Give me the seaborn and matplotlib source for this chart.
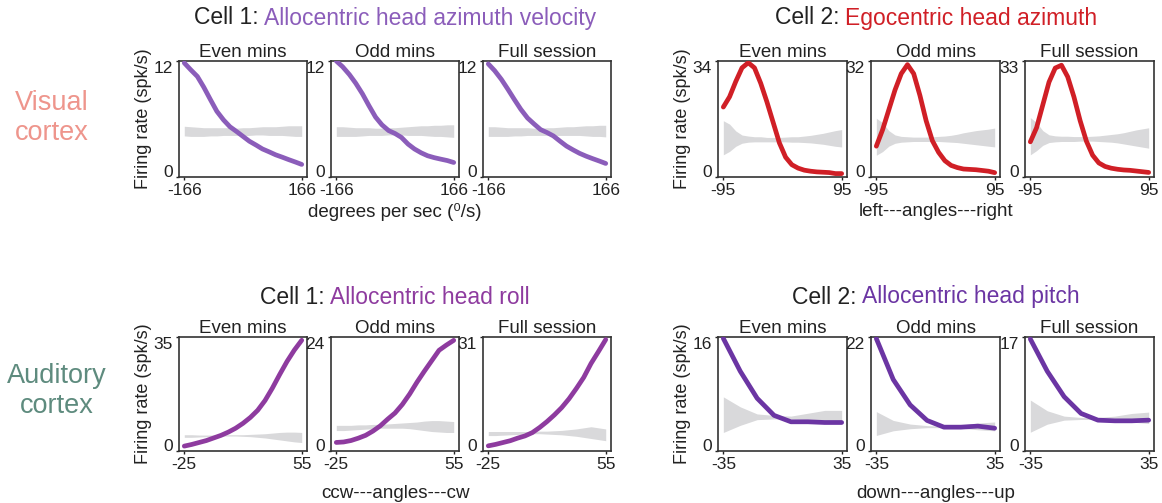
import matplotlib
matplotlib.use("Agg")
import matplotlib.pyplot as plt
import seaborn as sns

# ---- values ----
splits = ["Even mins", "Odd mins", "Full session"]

# Visual cortex, cell 1: allocentric head azimuth velocity
vel_x = [-166, -148, -129, -111, -92, -74, -55, -37, -18, 0,
         18, 37, 55, 74, 92, 111, 129, 148, 166]
vel_even = [11.8, 11.1, 10.4, 9.3, 8.0, 6.8, 5.9, 5.2, 4.7, 4.2,
            3.7, 3.3, 2.9, 2.6, 2.3, 2.05, 1.8, 1.55, 1.3]
vel_odd = [12.0, 11.4, 10.6, 9.7, 8.6, 7.4, 6.2, 5.4, 4.8, 4.5,
           4.1, 3.4, 2.9, 2.5, 2.2, 2.0, 1.85, 1.7, 1.5]
vel_full = [11.7, 11.0, 10.1, 9.1, 8.0, 7.0, 6.1, 5.5, 4.9, 4.6,
            4.25, 3.7, 3.2, 2.8, 2.45, 2.15, 1.9, 1.65, 1.4]
vel_lo_even = [4.25, 4.2, 4.2, 4.2, 4.25, 4.25, 4.3, 4.3, 4.3, 4.3,
               4.3, 4.35, 4.35, 4.3, 4.3, 4.3, 4.25, 4.2, 4.2]
vel_hi_even = [5.25, 5.2, 5.15, 5.1, 5.1, 5.1, 5.1, 5.1, 5.05, 5.1,
               5.1, 5.15, 5.2, 5.2, 5.2, 5.25, 5.3, 5.3, 5.3]
vel_lo_odd = [4.2, 4.2, 4.2, 4.2, 4.25, 4.3, 4.3, 4.3, 4.35, 4.35,
              4.35, 4.3, 4.3, 4.3, 4.25, 4.2, 4.2, 4.15, 4.1]
vel_hi_odd = [5.2, 5.2, 5.15, 5.1, 5.1, 5.1, 5.05, 5.05, 5.1, 5.1,
              5.15, 5.2, 5.25, 5.3, 5.3, 5.35, 5.35, 5.4, 5.4]
vel_lo_full = [4.2, 4.2, 4.2, 4.2, 4.25, 4.25, 4.3, 4.3, 4.3, 4.3,
               4.3, 4.3, 4.3, 4.3, 4.3, 4.25, 4.2, 4.2, 4.15]
vel_hi_full = [5.2, 5.2, 5.15, 5.1, 5.1, 5.1, 5.1, 5.05, 5.05, 5.1,
               5.1, 5.15, 5.2, 5.2, 5.25, 5.3, 5.3, 5.35, 5.35]

# Visual cortex, cell 2: egocentric head azimuth
azi_x = [-95, -85, -75, -65, -55, -45, -35, -25, -15, -5,
         5, 15, 25, 35, 45, 55, 65, 75, 85, 95]
azi_even = [20.5, 23.5, 28.0, 32.0, 33.5, 32.0, 27.5, 22.0, 16.0, 10.0,
            5.8, 3.6, 2.6, 2.0, 1.7, 1.5, 1.4, 1.3, 1.0, 1.0]
azi_odd = [8.5, 13.0, 18.5, 24.0, 28.5, 31.0, 28.5, 22.5, 15.5, 10.0,
           6.8, 4.5, 3.2, 2.6, 2.2, 2.1, 2.0, 1.8, 1.6, 1.2]
azi_full = [10.0, 14.0, 20.5, 27.0, 31.0, 31.8, 28.5, 22.8, 16.0, 10.2,
            6.2, 4.0, 3.0, 2.5, 2.2, 2.0, 1.9, 1.7, 1.5, 1.3]
azi_lo_even = [6.5, 7.5, 9.0, 9.9, 10.2, 10.3, 10.3, 10.3, 10.3, 10.3,
               10.3, 10.2, 10.2, 10.1, 10.0, 9.8, 9.6, 9.3, 9.0, 8.8]
azi_hi_even = [16.5, 15.5, 13.5, 12.3, 12.0, 11.8, 11.8, 11.6, 11.6, 11.6,
               11.7, 11.8, 11.8, 12.0, 12.2, 12.5, 12.8, 13.2, 13.6, 13.9]
azi_lo_odd = [6.0, 7.0, 8.5, 9.3, 9.6, 9.7, 9.8, 9.8, 9.8, 9.8,
              9.8, 9.7, 9.6, 9.5, 9.3, 9.1, 8.9, 8.7, 8.5, 8.3]
azi_hi_odd = [16.2, 15.0, 12.8, 11.6, 11.2, 11.1, 11.0, 11.0, 11.0, 11.1,
              11.2, 11.3, 11.5, 11.8, 12.2, 12.5, 12.8, 13.0, 13.2, 13.5]
azi_lo_full = [6.3, 7.5, 9.0, 9.8, 10.0, 10.1, 10.1, 10.1, 10.2, 10.2,
               10.2, 10.1, 10.0, 9.9, 9.7, 9.4, 9.1, 8.8, 8.5, 8.2]
azi_hi_full = [16.9, 15.5, 13.2, 12.0, 11.7, 11.6, 11.6, 11.5, 11.5, 11.5,
               11.6, 11.7, 11.9, 12.1, 12.3, 12.6, 13.0, 13.4, 13.7, 14.0]

# Auditory cortex, cell 1: allocentric head roll
roll_x = [-25, -20, -15, -10, -5, 0, 5, 10, 15, 20, 25, 30, 35, 40, 45, 50, 55]
roll_even = [1.5, 2.0, 2.6, 3.2, 4.0, 4.8, 5.8, 7.0, 8.5, 10.3, 12.5, 15.5,
             19.3, 23.5, 27.5, 31.0, 34.0]
roll_odd = [1.8, 1.9, 2.2, 2.7, 3.3, 4.2, 5.3, 6.7, 8.0, 9.8, 12.0, 14.5,
            16.8, 19.0, 21.2, 22.3, 23.3]
roll_full = [1.4, 1.8, 2.3, 2.8, 3.5, 4.1, 5.0, 6.4, 8.0, 9.8, 11.8, 14.2,
             17.0, 20.0, 23.8, 27.0, 30.3]
roll_lo_even = [4.2, 4.2, 4.3, 4.4, 4.5, 4.6, 4.6, 4.6, 4.5, 4.4, 4.2, 4.0,
                3.7, 3.4, 3.1, 2.8, 2.6]
roll_hi_even = [5.0, 5.0, 4.9, 4.9, 4.9, 4.9, 5.0, 5.0, 5.0, 5.1, 5.2, 5.3,
                5.5, 5.7, 5.8, 5.8, 5.7]
roll_lo_odd = [4.3, 4.3, 4.4, 4.5, 4.6, 4.7, 4.8, 4.8, 4.8, 4.8, 4.7, 4.5,
               4.3, 4.1, 4.0, 3.9, 3.9]
roll_hi_odd = [5.4, 5.4, 5.4, 5.5, 5.5, 5.6, 5.6, 5.7, 5.8, 5.9, 6.0, 6.1,
               6.3, 6.4, 6.4, 6.3, 6.2]
roll_lo_full = [4.2, 4.2, 4.3, 4.4, 4.5, 4.6, 4.7, 4.7, 4.6, 4.5, 4.4, 4.2,
                4.0, 3.7, 3.4, 3.1, 2.8]
roll_hi_full = [5.3, 5.3, 5.3, 5.3, 5.3, 5.3, 5.3, 5.4, 5.4, 5.5, 5.6, 5.8,
                6.0, 6.3, 6.6, 6.3, 6.0]

# Auditory cortex, cell 2: allocentric head pitch
pitch_x = [-35, -25, -15, -5, 5, 15, 25, 35]
pitch_even = [15.8, 11.2, 7.4, 5.0, 4.1, 4.1, 4.0, 4.0]
pitch_odd = [21.7, 13.8, 8.9, 5.9, 4.6, 4.6, 4.8, 4.4]
pitch_full = [16.7, 11.9, 8.1, 5.6, 4.6, 4.5, 4.5, 4.6]
pitch_lo_even = [2.6, 3.6, 4.4, 4.5, 4.5, 4.4, 4.3, 4.1]
pitch_hi_even = [7.6, 6.2, 5.2, 5.0, 4.9, 5.3, 5.7, 5.7]
pitch_lo_odd = [3.0, 3.9, 4.3, 4.5, 4.5, 4.4, 4.1, 3.9]
pitch_hi_odd = [7.6, 5.9, 5.2, 4.9, 4.8, 5.0, 5.4, 5.6]
pitch_lo_full = [2.8, 4.0, 4.6, 4.7, 4.7, 4.6, 4.3, 4.1]
pitch_hi_full = [7.6, 6.0, 5.2, 5.0, 5.0, 5.2, 5.6, 5.8]

y_max_labels = {
    "vel": [12, 12, 12],
    "azi": [34, 32, 33],
    "roll": [35, 24, 31],
    "pitch": [16, 22, 17],
}

# ---- styling / layout ----
sns.set_theme(style="ticks")
plt.rcParams["font.family"] = ["Liberation Sans", "DejaVu Sans"]

W, H = 1162, 503
TXT = "#222222"
BAND = "#D9D9DB"
fig = plt.figure(figsize=(W / 100, H / 100), dpi=100)

groups = [
    dict(key="vel", x=vel_x, ys=[vel_even, vel_odd, vel_full],
         lo=[vel_lo_even, vel_lo_odd, vel_lo_full],
         hi=[vel_hi_even, vel_hi_odd, vel_hi_full],
         color="#8B5DBA", head="Cell 1:", tail="Allocentric head azimuth velocity",
         xlabel="degrees per sec (\u2070/s)", row=0, col=0),
    dict(key="azi", x=azi_x, ys=[azi_even, azi_odd, azi_full],
         lo=[azi_lo_even, azi_lo_odd, azi_lo_full],
         hi=[azi_hi_even, azi_hi_odd, azi_hi_full],
         color="#D01F26", head="Cell 2:", tail="Egocentric head azimuth",
         xlabel="left---angles---right", row=0, col=1),
    dict(key="roll", x=roll_x, ys=[roll_even, roll_odd, roll_full],
         lo=[roll_lo_even, roll_lo_odd, roll_lo_full],
         hi=[roll_hi_even, roll_hi_odd, roll_hi_full],
         color="#8E3B9F", head="Cell 1:", tail="Allocentric head roll",
         xlabel="ccw---angles---cw", row=1, col=0),
    dict(key="pitch", x=pitch_x, ys=[pitch_even, pitch_odd, pitch_full],
         lo=[pitch_lo_even, pitch_lo_odd, pitch_lo_full],
         hi=[pitch_hi_even, pitch_hi_odd, pitch_hi_full],
         color="#6B35A3", head="Cell 2:", tail="Allocentric head pitch",
         xlabel="down---angles---up", row=1, col=1),
]

col_left = [[179, 331, 483], [718, 871, 1025]]
col_w = [128, 129]
row_top = [61, 337]
row_h = [116, 114]
title_y = [18, 297]
xlabel_y = [212, 493]


def two_color_title(xc, y, head, tail, color):
    t1 = fig.text(0, 1 - y / H, head, color=TXT, fontsize=16.5, va="center")
    t2 = fig.text(0, 1 - y / H, tail, color=color, fontsize=16.5, va="center")
    fig.canvas.draw()
    r = fig.canvas.get_renderer()
    w1 = t1.get_window_extent(r).width
    w2 = t2.get_window_extent(r).width
    gap = 5
    x0 = xc - (w1 + gap + w2) / 2
    t1.set_x(x0 / W)
    t2.set_x((x0 + w1 + gap) / W)


for g in groups:
    lefts = col_left[g["col"]]
    w = col_w[g["col"]]
    top = row_top[g["row"]]
    h = row_h[g["row"]]
    xmin, xmax = g["x"][0], g["x"][-1]
    pad = (xmax - xmin) * 0.045
    for i in range(3):
        ax = fig.add_axes([lefts[i] / W, 1 - (top + h) / H, w / W, h / H])
        ymax = y_max_labels[g["key"]][i]
        ax.fill_between(g["x"], g["lo"][i], g["hi"][i], color=BAND, lw=0, zorder=1)
        sns.lineplot(x=g["x"], y=g["ys"][i], ax=ax, color=g["color"],
                     linewidth=3.4, zorder=3)
        ax.set_xlim(xmin - pad, xmax + pad)
        ax.set_ylim(0, ymax)
        ax.set_xticks([xmin, xmax])
        ax.set_xticklabels([str(xmin), str(xmax)])
        ax.set_yticks([0, ymax])
        ax.set_yticklabels(["0", str(ymax)])
        ylabs = ax.get_yticklabels()
        ylabs[0].set_va("baseline")
        ylabs[1].set_va("top")
        ax.tick_params(axis="both", labelsize=12.5, length=2.5, width=1,
                       pad=2, colors=TXT)
        for s in ax.spines.values():
            s.set_color("#333333")
            s.set_linewidth(1.2)
        ax.set_title(splits[i], fontsize=13.5, color=TXT, pad=3)
        ax.set_xlabel("")
        if i == 0:
            ax.set_ylabel("Firing rate (spk/s)", fontsize=13, color=TXT, labelpad=1)
        else:
            ax.set_ylabel("")
    xc = (lefts[0] + lefts[2] + w) / 2
    two_color_title(xc, title_y[g["row"]], g["head"], g["tail"], g["color"])
    fig.text(xc / W, 1 - xlabel_y[g["row"]] / H, g["xlabel"], fontsize=13.5,
             color=TXT, ha="center", va="center")

fig.text(52 / W, 1 - 118 / H, "Visual\ncortex", fontsize=19.5, color="#EE958C",
         ha="center", va="center", linespacing=1.2)
fig.text(57 / W, 1 - 391 / H, "Auditory\ncortex", fontsize=19.5, color="#5E8B7E",
         ha="center", va="center", linespacing=1.2)

fig.savefig("out.png", dpi=100)
